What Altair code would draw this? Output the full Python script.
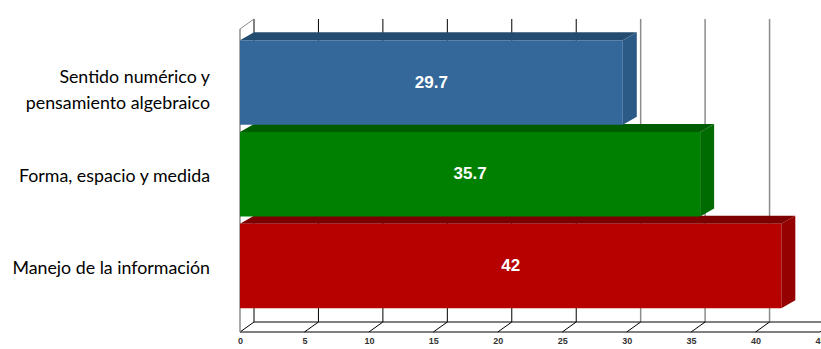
import altair as alt
import pandas as pd

# ---- data ----
categories = ["Sentido numérico y\npensamiento algebraico",
              "Forma, espacio y medida",
              "Manejo de la información"]
values = [29.7, 35.7, 42]
value_text = ["29.7", "35.7", "42"]
axis_ticks = [0, 5, 10, 15, 20, 25, 30, 35, 40, 45]

# ---- styles ----
FRONT = ["#35689a", "#008000", "#b70000"]
TOP = ["#234c70", "#005c00", "#7d0000"]
SIDE = ["#2b5a86", "#006b00", "#950000"]

W, H = 580, 315
PX_X = W / 45
PX_Y = 91.75
DX = 14 / PX_X          # depth along x (in value units)
BAR_DY = 8 / PX_Y       # bar depth (in row units)
FLOOR_DY = 10 / PX_Y    # wall depth
HALF = 42.25 / PX_Y     # half bar height
Y_MIN = -0.714
Y_MAX = Y_MIN + H / PX_Y

xs = alt.Scale(domain=[0, 45], nice=False, zero=False)
ys = alt.Scale(domain=[Y_MIN, Y_MAX], nice=False, zero=False, reverse=True)

base = pd.DataFrame({"idx": range(len(categories)), "cat": categories,
                     "value": values, "txt": value_text})

# faces built from the values
top_rows, side_rows = [], []
for i, (c, v) in enumerate(zip(categories, values)):
    top_rows.append(dict(cat=c, y=i - HALF, x=0.0, x2=v))
    top_rows.append(dict(cat=c, y=i - HALF - BAR_DY, x=DX, x2=v + DX))
    side_rows.append(dict(cat=c, x=v, y=i - HALF, y2=i + HALF))
    side_rows.append(dict(cat=c, x=v + DX, y=i - HALF - BAR_DY, y2=i + HALF - BAR_DY))
top_df = pd.DataFrame(top_rows)
side_df = pd.DataFrame(side_rows)

grid_df = pd.DataFrame({"t": axis_ticks})
one_df = pd.DataFrame({"k": [0]})


def X(f, **kw):
    return alt.X(f, type="quantitative", scale=xs, axis=kw.pop("axis", None), **kw)


def Y(f):
    return alt.Y(f, type="quantitative", scale=ys, axis=None)


# floor diagonal lines carrying the value axis
floor_diag = alt.Chart(grid_df).transform_calculate(
    xb=f"datum.t + {DX}", ya=f"{Y_MAX}", yb=f"{Y_MAX - FLOOR_DY}"
).mark_rule(color="#000000", strokeWidth=1).encode(
    x=X("t", title=None,
        axis=alt.Axis(values=axis_ticks, grid=False, ticks=False, domain=False,
                      labelFlush=False, labelFont="Liberation Sans",
                      labelFontWeight="bold", labelFontSize=9,
                      labelColor="#333333", labelPadding=4, title=None)),
    x2="xb:Q", y=Y("ya"), y2="yb:Q",
)

# back wall gridlines
grid = alt.Chart(grid_df).transform_calculate(
    xb=f"datum.t + {DX}", ya=f"{Y_MIN + 2 / PX_Y}", yb=f"{Y_MAX - FLOOR_DY}"
).mark_rule().encode(
    x=alt.X("xb", type="quantitative", scale=xs), y=Y("ya"), y2="yb:Q",
    color=alt.condition("datum.t >= 30", alt.value("#8c8c8c"), alt.value("#000000")),
    strokeWidth=alt.condition("datum.t >= 30", alt.value(1.5), alt.value(1)),
)

edges = alt.Chart(one_df).transform_calculate(
    a="0", b="45", c=f"{DX}", d=f"{45 + DX}",
    yf=f"{Y_MAX}", yb=f"{Y_MAX - FLOOR_DY}",
    yt=f"{Y_MIN + 2 / PX_Y}", ytf=f"{Y_MIN + 2 / PX_Y + FLOOR_DY}",
)
edge_front = edges.mark_rule(color="#000000").encode(
    x=alt.X("a", type="quantitative", scale=xs), x2="b:Q", y=Y("yf"))
edge_back = edges.mark_rule(color="#000000").encode(
    x=alt.X("c", type="quantitative", scale=xs), x2="d:Q", y=Y("yb"))
wall_front = edges.mark_rule(color="#8c8c8c", strokeWidth=1.5).encode(
    x=alt.X("a", type="quantitative", scale=xs), y=Y("ytf"), y2="yf:Q")
wall_top = edges.mark_rule(color="#8c8c8c").encode(
    x=alt.X("a", type="quantitative", scale=xs), y=Y("ytf"), x2="c:Q", y2="yt:Q")

top_face = alt.Chart(top_df).mark_area(orient="horizontal", opacity=1).encode(
    y=Y("y"), x=alt.X("x", type="quantitative", scale=xs), x2="x2:Q", detail="cat:N",
    color=alt.Color("cat:N", scale=alt.Scale(domain=categories, range=TOP), legend=None),
)

side_face = alt.Chart(side_df).mark_area(orient="vertical", opacity=1).encode(
    x=alt.X("x", type="quantitative", scale=xs), y=Y("y"), y2="y2:Q", detail="cat:N",
    color=alt.Color("cat:N", scale=alt.Scale(domain=categories, range=SIDE), legend=None),
)

front = alt.Chart(base).transform_calculate(
    x0="0", y1=f"datum.idx - {HALF}", y2=f"datum.idx + {HALF}"
).mark_rect().encode(
    x=alt.X("x0", type="quantitative", scale=xs), x2="value:Q", y=Y("y1"), y2="y2:Q",
    color=alt.Color("cat:N", scale=alt.Scale(domain=categories, range=FRONT), legend=None),
)

val_text = alt.Chart(base).transform_calculate(xm="datum.value / 2").mark_text(
    color="white", font="Liberation Sans", fontWeight="bold", fontSize=17,
    baseline="middle", align="center").encode(
    x=alt.X("xm", type="quantitative", scale=xs), y=Y("idx"), text="txt:N",
)

cat_text = alt.Chart(base).transform_calculate(
    x0="0",
    ly=f"datum.idx + (indexof(datum.cat, '\\n') >= 0 ? {-4.5 / PX_Y} : {2.5 / PX_Y})"
).mark_text(
    align="right", baseline="middle", font="Lato", fontSize=17.8, color="#000000",
    lineBreak="\n", lineHeight=26, xOffset=-30).encode(
    x=alt.X("x0", type="quantitative", scale=xs), y=Y("ly"), text="cat:N",
)

chart = alt.layer(
    floor_diag, grid, edge_front, edge_back, wall_front, wall_top,
    top_face, side_face, front, val_text, cat_text,
).resolve_scale(color="independent").properties(
    width=W, height=H,
    padding={"left": 240, "top": 17, "right": 1, "bottom": 17},
    autosize=alt.AutoSizeParams(type="none"),
    background="white",
).configure_view(stroke=None)

chart.save("out.html", embed_options={"renderer": "svg", "actions": False})
